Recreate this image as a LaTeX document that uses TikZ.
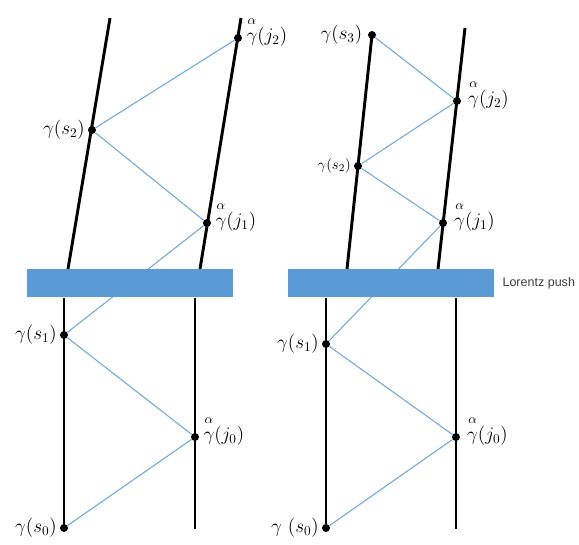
\documentclass[tikz,border=0pt]{standalone}
\usepackage{amsmath}
\usepackage{fontspec}
\setsansfont{Liberation Sans}
\usepackage{tikz}
\usetikzlibrary{positioning}
\definecolor{pushblue}{HTML}{5B9BD5}
\definecolor{raycol}{HTML}{6FA8DC}
\tikzset{
  world/.style={line width=2.2pt},
  ray/.style={raycol, line width=0.8pt},
  dot/.style={circle, fill, inner sep=0pt, minimum size=6pt},
  lab/.style={font=\fontsize{14}{16}\selectfont, inner sep=1pt},
  push/.style={fill=pushblue, draw=none, minimum width=154.5pt, minimum height=21.5pt},
}
\newcommand{\ag}[1]{\overset{\alpha}{\vphantom{\beta}\gamma}(#1)}

\begin{document}
\begin{tikzpicture}[x=0.75pt, y=-0.75pt]
    \useasboundingbox (0,0) rectangle (579,544);

    % linkes Bild
    \begin{scope}
        \coordinate (lTa) at (110,18);
        \coordinate (lTb) at (68,269);
        \coordinate (rTa) at (241,18);
        \coordinate (rTb) at (200,269);
        \coordinate (rBb) at (195,529);
        \node[dot] (s0) at (64,528) {};
        \node[dot] (s1) at (64,335) {};
        \node[dot] (s2) at (92,130) {};
        \node[dot] (j0) at (195,437) {};
        \node[dot] (j1) at (207,223) {};
        \node[dot] (j2) at (238,38) {};
        \draw[ray] (s0) -- (j0) -- (s1) -- (j1) -- (s2) -- (j2);
        \draw[world] (lTa) -- (lTb);
        \draw[world] (rTa) -- (rTb);
        \node[push] (barL) at (130,283) {};
        \draw[world] (barL.south -| s0) -- (s0);
        \draw[world] (barL.south -| j0) -- (rBb);
        \node[lab, left=1pt of s0] (ls0) {$\gamma(s_0)$};
        \node[lab, left=1pt of s1] (ls1) {$\gamma(s_1)$};
        \node[lab, left=1pt of s2] (ls2) {$\gamma(s_2)$};
        \node[lab, right=2pt of j0, yshift=5pt] (lj0) {$\ag{j_0}$};
        \node[lab, right=2pt of j1, yshift=5pt] (lj1) {$\ag{j_1}$};
        \node[lab, right=2pt of j2, yshift=5pt] (lj2) {$\ag{j_2}$};
    \end{scope}

    % rechtes Bild
    \begin{scope}
        \coordinate (lTbR) at (347,269);
        \coordinate (rTaR) at (465,28);
        \coordinate (rTbR) at (438,269);
        \coordinate (rBbR) at (456,529);
        \node[dot] (s0R) at (326,528) {};
        \node[dot] (s1R) at (326,344) {};
        \node[dot] (s2R) at (358,166) {};
        \node[dot] (s3R) at (372,35) {};
        \node[dot] (j0R) at (456,437) {};
        \node[dot] (j1R) at (443,223) {};
        \node[dot] (j2R) at (457,101) {};
        \draw[ray] (s0R) -- (j0R) -- (s1R) -- (j1R) -- (s2R) -- (j2R) -- (s3R);
        \draw[world] (s3R.center) -- (lTbR);
        \draw[world] (rTaR) -- (rTbR);
        \node[push] (barR) at (391,283) {};
        \draw[world] (barR.south -| s0R) -- (s0R);
        \draw[world] (barR.south -| j0R) -- (rBbR);
        \node[right=6pt of barR, inner sep=0pt, font=\sffamily\fontsize{9.4}{11}\selectfont, text=black!75] (push) {Lorentz push};
        \node[lab, left=1pt of s0R] (ls0R) {$\gamma\ (s_0)$};
        \node[lab, left=1pt of s1R] (ls1R) {$\gamma(s_1)$};
        \node[lab, left=1pt of s2R, font=\fontsize{11}{13}\selectfont] (ls2R) {$\gamma(s_2)$};
        \node[lab, left=3pt of s3R] (ls3R) {$\gamma(s_3)$};
        \node[lab, right=4pt of j0R, yshift=5pt] (lj0R) {$\ag{j_0}$};
        \node[lab, right=4pt of j1R, yshift=5pt] (lj1R) {$\ag{j_1}$};
        \node[lab, right=4pt of j2R, yshift=5pt] (lj2R) {$\ag{j_2}$};
    \end{scope}
\end{tikzpicture}
\end{document}
